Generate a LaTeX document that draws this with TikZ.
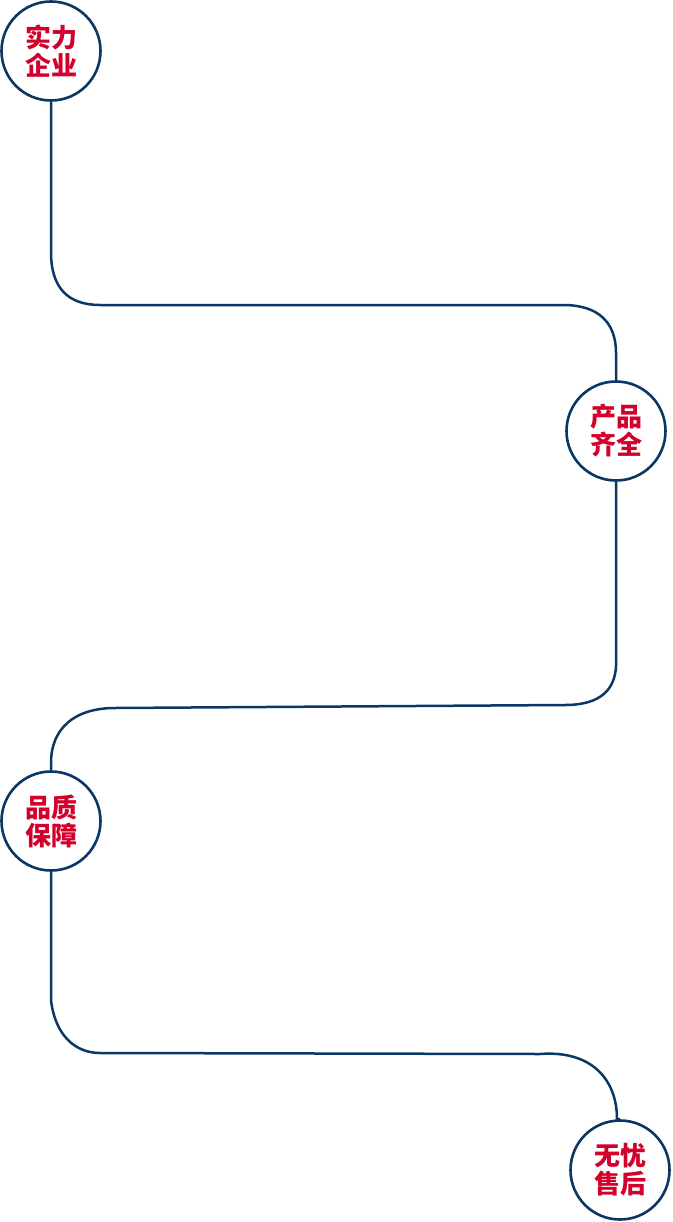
\documentclass[tikz,border=0pt]{standalone}
\usepackage{xcolor}
\usepackage{fontspec}
\usepackage{tikz}
\newfontfamily\cjk{Noto Sans CJK SC}[BoldFont={Noto Sans CJK SC Black}]
\definecolor{navy}{HTML}{0B3765}
\definecolor{stepred}{HTML}{D2002B}

\tikzset{
  stepnode/.style={circle, draw=navy, line width=2.6pt, fill=white,
    minimum size=99pt, inner sep=0pt, align=center, text=stepred,
    font=\cjk\bfseries\fontsize{26pt}{28pt}\selectfont},
  link/.style={draw=navy, line width=2.5pt}
}

\begin{document}
\begin{tikzpicture}[x=1pt,y=-1pt]
\useasboundingbox (0,0) rectangle (672,1222);
\node[stepnode] (shili) at (51,51) {实力\\企业};
\node[stepnode] (chanpin) at (616,431) {产品\\齐全};
\node[stepnode] (pinzhi) at (51,821) {品质\\保障};
\node[stepnode] (wuyou) at (620,1170) {无忧\\售后};
\draw[link] (shili.south) -- (51,252) .. controls (51,288) and (68,305) .. (100,305) -- (563,305) .. controls (598,305) and (616,322) .. (616,353) -- (chanpin.north);
\draw[link] (chanpin.south) -- (616,658) .. controls (618,690) and (600,705) .. (565,705) -- (115,708) .. controls (75,708) and (51,728) .. (51,763) -- (pinzhi.north);
\draw[link] (pinzhi.south) -- (51,1000) .. controls (55,1035) and (75,1053) .. (100,1053) -- (540,1054) .. controls (592,1050) and (617,1080) .. (617,1119) -- (wuyou.north);
\end{tikzpicture}
\end{document}
